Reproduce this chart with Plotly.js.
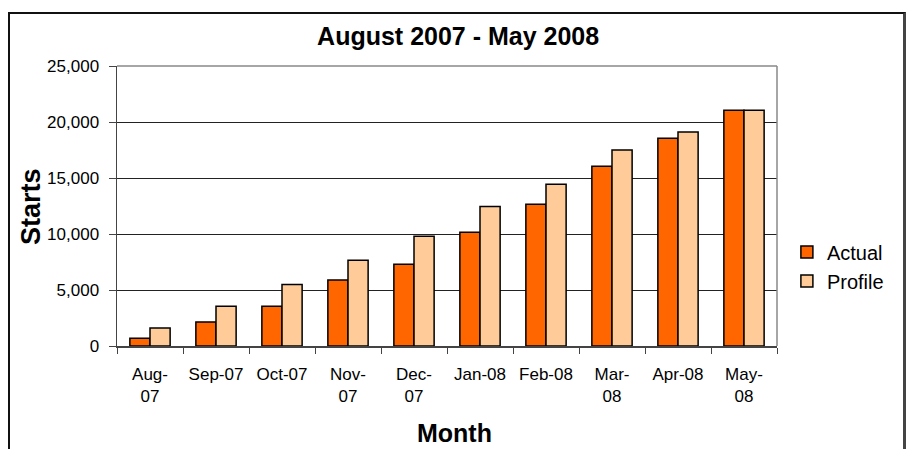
<!DOCTYPE html>
<html>
<head>
<meta charset="utf-8">
<script src="https://cdn.plot.ly/plotly-3.0.1.min.js"></script>
<style>
  html, body { margin: 0; padding: 0; background: #fff; }
  #chart { width: 909px; height: 449px; }
  #frame { position: absolute; left: 8px; top: 12px; width: 893px; height: 460px;
           border-left: 2px solid #111; border-top: 2px solid #111; border-right: 3px solid #444;
           pointer-events: none; }
</style>
</head>
<body>
<div id="chart"></div>
<div id="frame"></div>
<script>
const months = ["Aug-<br>07", "Sep-07", "Oct-07", "Nov-<br>07", "Dec-<br>07", "Jan-08", "Feb-08", "Mar-<br>08", "Apr-08", "May-<br>08"];
const actual = [700, 2150, 3550, 5900, 7300, 10150, 12650, 16050, 18550, 21050];
const profile = [1600, 3550, 5500, 7650, 9800, 12450, 14450, 17500, 19100, 21050];

const font = "Liberation Sans, Arial, sans-serif";

const traces = [
  { type: "bar", name: "Actual", x: months, y: actual,
    marker: { color: "#FF6600", line: { color: "#000", width: 1.5 } } },
  { type: "bar", name: "Profile", x: months, y: profile,
    marker: { color: "#FFCC99", line: { color: "#000", width: 1.5 } } }
];

const layout = {
  width: 909, height: 449,
  margin: { l: 117, r: 132, t: 66, b: 103 },
  paper_bgcolor: "#fff", plot_bgcolor: "#fff",
  font: { family: font, color: "#000", size: 17 },
  title: { text: "<b>August 2007 - May 2008</b>", font: { family: font, size: 25, color: "#000" },
           x: 0.504, xanchor: "center", y: 0.92, yanchor: "middle" },
  barmode: "group", bargap: 0.39, bargroupgap: 0,
  showlegend: true,
  legend: { x: 1.015, y: 0.284, xanchor: "left", yanchor: "middle",
            font: { family: font, size: 20, color: "#000" }, bgcolor: "rgba(0,0,0,0)" },
  xaxis: { type: "category", showgrid: false, showline: true, linecolor: "#444", linewidth: 1.5,
           ticks: "outside", tickson: "boundaries", ticklen: 6, tickcolor: "#444", ticklabelstandoff: 12,
           tickfont: { family: font, size: 17, color: "#000" }, tickangle: 0 },
  yaxis: { range: [0, 25000], dtick: 5000, tickformat: ",", showgrid: true, gridcolor: "#222", gridwidth: 1,
           zeroline: false, showline: true, linecolor: "#444", linewidth: 1.5,
           ticks: "outside", ticklen: 7, tickcolor: "#444", ticklabelstandoff: 6,
           tickfont: { family: font, size: 17, color: "#000" } },
  shapes: [
    { type: "line", xref: "paper", yref: "paper", x0: 0, x1: 1, y0: 1, y1: 1, line: { color: "#888", width: 1.5 } },
    { type: "line", xref: "paper", yref: "paper", x0: 1, x1: 1, y0: 0, y1: 1, line: { color: "#888", width: 1.5 } }
  ],
  annotations: [
    { text: "<b>Starts</b>", xref: "paper", yref: "paper", x: -0.13, y: 0.497, xanchor: "center", yanchor: "middle",
      textangle: -90, showarrow: false, font: { family: font, size: 27, color: "#000" } },
    { text: "<b>Month</b>", xref: "paper", yref: "paper", x: 0.512, y: -0.31, xanchor: "center", yanchor: "middle",
      showarrow: false, font: { family: font, size: 25, color: "#000" } }
  ]
};

Plotly.newPlot("chart", traces, layout, { displayModeBar: false, staticPlot: true });
</script>
</body>
</html>
